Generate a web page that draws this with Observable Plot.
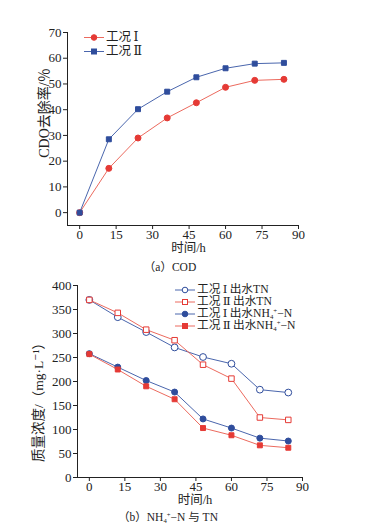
<!DOCTYPE html>
<html><head><meta charset="utf-8">
<script src="https://cdn.jsdelivr.net/npm/d3@7"></script>
<script src="https://cdn.jsdelivr.net/npm/@observablehq/plot@0.6"></script>
<style>
body{margin:0;background:#fff;}
#wrap{position:relative;width:381px;height:528px;overflow:hidden;font-family:"Liberation Serif","DejaVu Serif","Noto Sans CJK SC",serif;color:#222;}
.plotbox{position:absolute;left:0;}
.cap{position:absolute;font-size:11.5px;white-space:nowrap;transform:translate(-50%,-50%);line-height:1;}
.ttl{position:absolute;white-space:nowrap;line-height:1;}
.leg{position:absolute;display:flex;align-items:center;white-space:nowrap;}
.leg .lt{display:inline-block;overflow:visible;}
.stk{position:relative;display:inline-block;width:0.62em;height:0.8em;}
.stk .sp{position:absolute;left:0.5em;top:0.05em;font-size:0.58em;line-height:0.8;}
.stk .sb{position:absolute;left:0;top:0.88em;font-size:0.58em;line-height:0.8;}
</style></head><body><div id="wrap"></div>
<script>
// ---- data ----
const hours = [0, 12, 24, 36, 48, 60, 72, 84];
const codCase1 = [0, 17.2, 29, 36.8, 42.7, 48.7, 51.4, 51.8];
const codCase2 = [0, 28.5, 40.2, 47, 52.6, 56.1, 57.9, 58.2];
const tnCase1 = [370, 334, 303, 271, 251, 237, 183, 177];
const tnCase2 = [370, 343, 308, 286, 235, 206, 125, 120];
const nhCase1 = [258, 230, 202, 178, 122, 103, 82, 76];
const nhCase2 = [257, 225, 190, 163, 103, 88, 67, 62];
const codNames = ["工况Ⅰ", "工况Ⅱ"];
const nNames = ["工况Ⅰ出水TN", "工况Ⅱ出水TN", "工况Ⅰ出水NH4+-N", "工况Ⅱ出水NH4+-N"];
const xTicks = [0, 15, 30, 45, 60, 75, 90];
const codTicks = [0, 10, 20, 30, 40, 50, 60, 70];
const nTicks = [0, 50, 100, 150, 200, 250, 300, 350, 400];
const xLabel = "时间/h";
const codYLabel = "CDO去除率/％";
const nYLabel = "质量浓度/（mg·L⁻¹）";
const captionA = "（a）COD";
const captionB = "（b）NH4+-N 与 TN";

// ---- styles ----
const RED = "#e53a35", RED_LINE = "#ec6a5e";
const BLUE = "#2f4d9c", BLUE_LINE = "#4a66ad";
const FONT = "Liberation Serif, DejaVu Serif, Noto Sans CJK SC, serif";

function rows(name, vals) { return hours.map((h, i) => ({series: name, h, v: vals[i]})); }

function seriesMarks(data, cfg) {
  return [
    Plot.line(data, {x: "h", y: "v", stroke: cfg.line, strokeWidth: 1}),
    Plot.dot(data, {x: "h", y: "v", symbol: cfg.shape, r: cfg.r, fill: cfg.filled ? cfg.color : "white", stroke: cfg.color, strokeWidth: 1})
  ];
}

function makeChart({series, yDomain, yTicks, height, mt, mb, ml, mr}) {
  const xDomain = [-5, 90];
  return Plot.plot({
    width: 381, height, marginTop: mt, marginBottom: mb, marginLeft: ml, marginRight: mr,
    style: {fontFamily: FONT, fontSize: "13px", color: "#222", background: "transparent"},
    x: {domain: xDomain},
    y: {domain: yDomain},
    marks: [
      Plot.axisX({ticks: xTicks, tickSize: 4, tickPadding: 0, label: null}),
      Plot.axisY({ticks: yTicks, tickSize: 4, tickPadding: 2, label: null}),
      Plot.ruleX([xDomain[0]], {stroke: "#222"}),
      Plot.ruleY([yDomain[0]], {stroke: "#222"}),
      ...series.flatMap(s => seriesMarks(s.data, s))
    ]
  });
}

const wrap = document.getElementById("wrap");

// chart (a)
const chartA = makeChart({
  series: [
    {data: rows(codNames[0], codCase1), color: RED, line: RED_LINE, shape: "circle", filled: true, r: 3},
    {data: rows(codNames[1], codCase2), color: BLUE, line: BLUE_LINE, shape: "square", filled: true, r: 2.8}
  ],
  yDomain: [-5, 70], yTicks: codTicks,
  height: 256, mt: 32, mb: 31, ml: 67, mr: 83
});
const boxA = document.createElement("div"); boxA.className = "plotbox"; boxA.style.top = "0px";
boxA.appendChild(chartA); wrap.appendChild(boxA);

// chart (b)
const chartB = makeChart({
  series: [
    {data: rows(nNames[0], tnCase1), color: BLUE, line: BLUE_LINE, shape: "circle", filled: false, r: 3.4},
    {data: rows(nNames[1], tnCase2), color: RED, line: RED_LINE, shape: "square", filled: false, r: 3.1},
    {data: rows(nNames[2], nhCase1), color: BLUE, line: BLUE_LINE, shape: "circle", filled: true, r: 3},
    {data: rows(nNames[3], nhCase2), color: RED, line: RED_LINE, shape: "square", filled: true, r: 2.8}
  ],
  yDomain: [0, 400], yTicks: nTicks,
  height: 234, mt: 9, mb: 33, ml: 77, mr: 79
});
const boxB = document.createElement("div"); boxB.className = "plotbox"; boxB.style.top = "276px";
boxB.appendChild(chartB); wrap.appendChild(boxB);

// text helpers
function richText(name) {
  return name
    .replace("NH4+", 'NH<span class="stk"><span class="sp">+</span><span class="sb">4</span></span>')
    .replace("-N", "−N")
    .replace(/([ⅠⅡ])/, "\u2009$1\u2009");
}
function title(text, cx, cy, size, rotate) {
  const d = document.createElement("div"); d.className = "ttl";
  d.style.left = cx + "px"; d.style.top = cy + "px"; d.style.fontSize = size + "px";
  d.style.transform = "translate(-50%,-50%)" + (rotate ? " rotate(-90deg)" : "");
  d.textContent = text; wrap.appendChild(d);
}
title(xLabel, 188.5, 248, 12.5, false);
title(codYLabel, 45, 113, 14, true);
title(xLabel, 195, 500, 12.5, false);
title(nYLabel, 39, 399, 13.5, true);

// legends
function legendRow(left, cy, lh, fs, color, line, shape, filled, html) {
  const d = document.createElement("div");
  d.className = "leg";
  d.style.left = left + "px"; d.style.top = (cy - lh / 2) + "px"; d.style.height = lh + "px";
  d.style.fontSize = fs + "px";
  const c = lh / 2;
  const fill = filled ? color : "white";
  const mk = shape === "circle"
    ? `<circle cx="10" cy="${c}" r="2.8" fill="${fill}" stroke="${color}"/>`
    : `<rect x="7.5" y="${c - 2.5}" width="5" height="5" fill="${fill}" stroke="${color}"/>`;
  d.innerHTML = `<svg width="20" height="${lh}"><line x1="0" x2="20" y1="${c}" y2="${c}" stroke="${line}"/>${mk}</svg><span class="lt" style="margin-left:2px;line-height:${lh}px;height:${lh}px">${html}</span>`;
  wrap.appendChild(d);
}
legendRow(84, 37.3, 13, 12.5, RED, RED_LINE, "circle", true, richText(codNames[0]));
legendRow(84, 51, 13, 12.5, BLUE, BLUE_LINE, "square", true, richText(codNames[1]));
const nLeg = [[BLUE, BLUE_LINE, "circle", false], [RED, RED_LINE, "square", false], [BLUE, BLUE_LINE, "circle", true], [RED, RED_LINE, "square", true]];
nNames.forEach((n, i) => legendRow(175, 290 + i * 12, 12, 11.7, nLeg[i][0], nLeg[i][1], nLeg[i][2], nLeg[i][3], richText(n)));

// captions
function caption(html, cx, cy) {
  const d = document.createElement("div"); d.className = "cap";
  d.style.left = cx + "px"; d.style.top = cy + "px"; d.innerHTML = html; wrap.appendChild(d);
}
caption(richText(captionA), 170, 268);
caption(richText(captionB), 168, 518);
</script>
</body></html>
